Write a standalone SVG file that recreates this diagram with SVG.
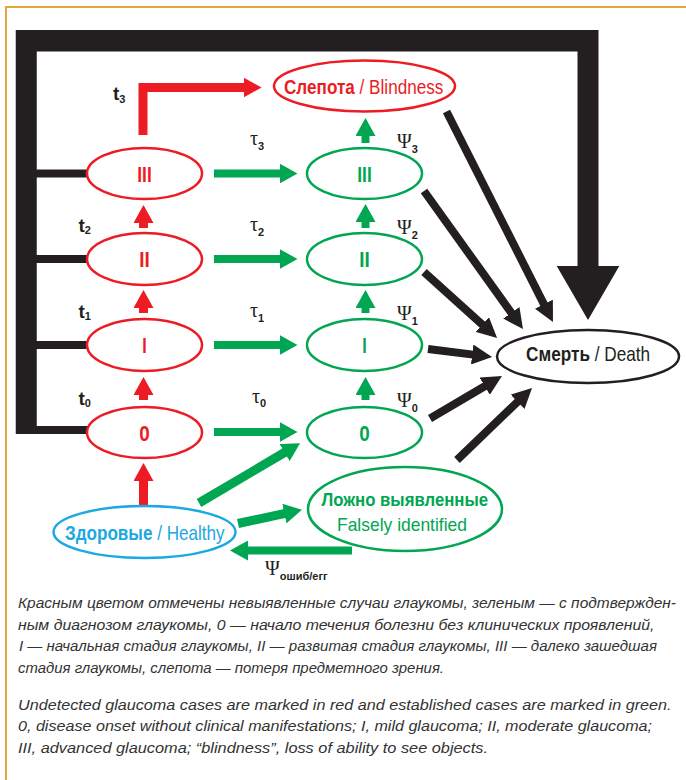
<svg xmlns="http://www.w3.org/2000/svg" width="686" height="780" viewBox="0 0 686 780">
<style>
.sans{font-family:"Liberation Sans",Arial,sans-serif}
.serif{font-family:"Liberation Serif","Times New Roman",serif;font-size:20px;fill:#231F20}
.b{font-weight:bold}
.er{fill:#fff;stroke:#ED1C24;stroke-width:2.5}
.eg{fill:#fff;stroke:#00A651;stroke-width:2.5}
.ek{fill:#fff;stroke:#231F20;stroke-width:2.5}
.eb{fill:#fff;stroke:#1CA8E3;stroke-width:2.5}
.num{font-family:"Liberation Sans",Arial,sans-serif;font-weight:bold;font-size:22px;text-anchor:middle}
.rt{fill:#ED1C24}
.gt{fill:#00A651}
.kt{fill:#231F20}
.bt{fill:#1CA8E3}
.name{font-family:"Liberation Sans",Arial,sans-serif;font-size:20px}
.tl{font-family:"Liberation Sans",Arial,sans-serif;font-weight:bold;font-size:19px;fill:#231F20}
.sub{font-family:"Liberation Sans",Arial,sans-serif;font-weight:bold;font-size:11px;fill:#231F20}
.ar{fill:none;stroke:#ED1C24;stroke-width:9;marker-end:url(#mR)}
.ag{fill:none;stroke:#00A651;stroke-width:8;marker-end:url(#mG)}
.ak{fill:none;stroke:#231F20;stroke-width:8;marker-end:url(#mK)}
.bar{fill:#231F20}
.cap{font-family:"Liberation Sans",Arial,sans-serif;font-style:italic;font-size:15.5px;fill:#333}
</style>
<defs>
<marker id="mR" markerUnits="userSpaceOnUse" markerWidth="18" markerHeight="20" refX="1" refY="10" orient="auto"><path d="M0,0 L18,10 L0,20 z" fill="#ED1C24"/></marker>
<marker id="mG" markerUnits="userSpaceOnUse" markerWidth="18" markerHeight="20" refX="1" refY="10" orient="auto"><path d="M0,0 L18,10 L0,20 z" fill="#00A651"/></marker>
<marker id="mK" markerUnits="userSpaceOnUse" markerWidth="20" markerHeight="20" refX="1" refY="10" orient="auto"><path d="M0,0 L20,10 L0,20 z" fill="#231F20"/></marker>
</defs>
<rect width="686" height="780" fill="#fff"/>
<path d="M686,7 H6 V780" fill="none" stroke="#E3A63C" stroke-width="2"/>

<g id="connectors">
<path class="bar" d="M15.75,30 H598.5 V266 H619.3 L588,320 L556.7,266 H577.5 V51.5 H36.75 V426 H88 V434 H15.75 Z"/>
<rect class="bar" x="36" y="169.5" width="52" height="8"/>
<rect class="bar" x="36" y="255" width="52" height="8"/>
<rect class="bar" x="36" y="341" width="52" height="8"/>
<path class="ar" d="M143,135 V87.5 H244.5"/>
<path class="ar" d="M143.5,228 V222"/>
<path class="ar" d="M143.5,313 V307"/>
<path class="ar" d="M143.5,400 V394"/>
<path class="ar" d="M143.5,505 V480"/>
<path class="ag" d="M365.5,143 V135"/>
<path class="ag" d="M365.5,228 V221"/>
<path class="ag" d="M365.5,313 V307"/>
<path class="ag" d="M365.5,400 V394"/>
<path class="ag" d="M214,173.5 H280.5"/>
<path class="ag" d="M214,259 H280.5"/>
<path class="ag" d="M214,345 H280.5"/>
<path class="ag" d="M214,432 H280.5"/>
<path class="ag" style="stroke-width:9" d="M199,503 L285.4,452"/>
<path class="ag" style="stroke-width:9" d="M238,523.5 L285.3,513.4"/>
<path class="ag" d="M352,550.5 H247"/>
<path class="ak" d="M446.5,111.5 L544.4,305.1"/>
<path class="ak" d="M424,191 L511.9,313.6"/>
<path class="ak" d="M424,272 L483,325.2"/>
<path class="ak" d="M428,349 L473.2,354.6"/>
<path class="ak" d="M430,418.5 L485.6,385.7"/>
<path class="ak" d="M457,460 L518.3,401.1"/>
</g>

<g id="labels">
<text class="tl" x="113" y="100">t<tspan class="sub" dy="3">3</tspan></text>
<text class="tl" x="78.5" y="231.5">t<tspan class="sub" dy="2">2</tspan></text>
<text class="tl" x="78.5" y="317.5">t<tspan class="sub" dy="2">1</tspan></text>
<text class="tl" x="78.5" y="405">t<tspan class="sub" dy="2">0</tspan></text>
<text class="serif" x="250" y="145">τ<tspan class="sub" dy="5">3</tspan></text>
<text class="serif" x="250" y="230.5">τ<tspan class="sub" dy="5">2</tspan></text>
<text class="serif" x="250" y="316.5">τ<tspan class="sub" dy="5">1</tspan></text>
<text class="serif" x="252" y="403">τ<tspan class="sub" dy="4">0</tspan></text>
<text class="serif" x="397" y="148">Ψ<tspan class="sub" dy="5">3</tspan></text>
<text class="serif" x="397" y="233.5">Ψ<tspan class="sub" dy="5">2</tspan></text>
<text class="serif" x="397" y="319.5">Ψ<tspan class="sub" dy="5">1</tspan></text>
<text class="serif" x="397" y="406.5">Ψ<tspan class="sub" dy="5">0</tspan></text>
<text class="serif" x="265" y="575">Ψ<tspan class="sub" dy="4.5">ошиб/егг</tspan></text>
</g>

<g id="node-r3"><ellipse class="er" cx="144.5" cy="173.5" rx="57.5" ry="25.5"/><text class="num rt" x="144.5" y="181.5" textLength="14.5" lengthAdjust="spacingAndGlyphs">III</text></g>
<g id="node-r2"><ellipse class="er" cx="144.5" cy="259" rx="57.5" ry="26"/><text class="num rt" x="144.5" y="267" textLength="10.5" lengthAdjust="spacingAndGlyphs">II</text></g>
<g id="node-r1"><ellipse class="er" cx="144.5" cy="345" rx="57.5" ry="26"/><text class="num rt" x="144.5" y="353" textLength="4.5" lengthAdjust="spacingAndGlyphs">I</text></g>
<g id="node-r0"><ellipse class="er" cx="144.5" cy="432.5" rx="57.5" ry="25.5"/><text class="num rt" x="144.5" y="441" textLength="10.5" lengthAdjust="spacingAndGlyphs">0</text></g>
<g id="node-g3"><ellipse class="eg" cx="364.5" cy="173.5" rx="57.5" ry="25.5"/><text class="num gt" x="364.5" y="181.5" textLength="14.5" lengthAdjust="spacingAndGlyphs">III</text></g>
<g id="node-g2"><ellipse class="eg" cx="364.5" cy="259" rx="57.5" ry="26"/><text class="num gt" x="364.5" y="267" textLength="10.5" lengthAdjust="spacingAndGlyphs">II</text></g>
<g id="node-g1"><ellipse class="eg" cx="364.5" cy="345" rx="57.5" ry="26"/><text class="num gt" x="364.5" y="353" textLength="4.5" lengthAdjust="spacingAndGlyphs">I</text></g>
<g id="node-g0"><ellipse class="eg" cx="364.5" cy="432.5" rx="57.5" ry="25.5"/><text class="num gt" x="364.5" y="441" textLength="10.5" lengthAdjust="spacingAndGlyphs">0</text></g>
<g id="node-blindness"><ellipse class="er" cx="364.5" cy="86" rx="90.5" ry="25.5"/><text class="name rt" transform="translate(284,93.5) scale(0.857,1)"><tspan class="b">Слепота</tspan> / Blindness</text></g>
<g id="node-death"><ellipse class="ek" cx="588" cy="356.5" rx="91" ry="26.5"/><text class="name kt" transform="translate(526,360.5) scale(0.86,1)"><tspan class="b">Смерть</tspan> / Death</text></g>
<g id="node-healthy"><ellipse class="eb" cx="144.5" cy="532" rx="91" ry="26"/><text class="name bt" transform="translate(65,539.5) scale(0.855,1)"><tspan class="b">Здоровые</tspan> / Healthy</text></g>
<g id="node-false"><ellipse class="eg" cx="405" cy="509" rx="97" ry="42"/><text class="name gt b" x="321.5" y="506" style="font-size:19px" textLength="166.5" lengthAdjust="spacingAndGlyphs">Ложно выявленные</text><text class="name gt" x="337" y="531" style="font-size:19px" textLength="130" lengthAdjust="spacingAndGlyphs">Falsely identified</text></g>

<g id="caption">
<text class="cap" x="18" y="608" textLength="658" lengthAdjust="spacingAndGlyphs">Красным цветом отмечены невыявленные случаи глаукомы, зеленым — с подтвержден-</text>
<text class="cap" x="18" y="629.5" textLength="636.5" lengthAdjust="spacingAndGlyphs">ным диагнозом глаукомы, 0 — начало течения болезни без клинических проявлений,</text>
<text class="cap" x="19" y="651" textLength="638" lengthAdjust="spacingAndGlyphs">I — начальная стадия глаукомы, II — развитая стадия глаукомы, III — далеко зашедшая</text>
<text class="cap" x="18" y="672.5" textLength="426" lengthAdjust="spacingAndGlyphs">стадия глаукомы, слепота — потеря предметного зрения.</text>
<text class="cap" x="18" y="709.5" textLength="653.5" lengthAdjust="spacingAndGlyphs">Undetected glaucoma cases are marked in red and established cases are marked in green.</text>
<text class="cap" x="18" y="731" textLength="634" lengthAdjust="spacingAndGlyphs">0, disease onset without clinical manifestations; I, mild glaucoma; II, moderate glaucoma;</text>
<text class="cap" x="18" y="752.5" textLength="470" lengthAdjust="spacingAndGlyphs">III, advanced glaucoma; “blindness”, loss of ability to see objects.</text>
</g>
</svg>
